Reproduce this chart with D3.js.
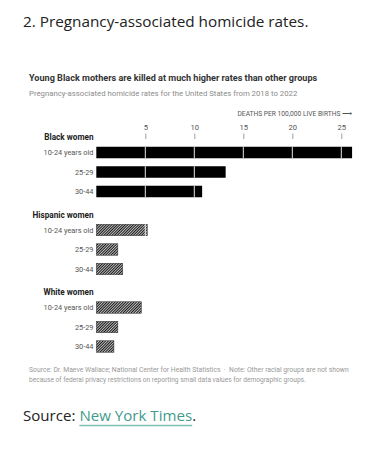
<!DOCTYPE html>
<html>
<head>
<meta charset="utf-8">
<script src="https://cdn.jsdelivr.net/npm/d3@7"></script>
<style>
  html, body { margin: 0; padding: 0; background: #fff; }
  svg { display: block; }
</style>
</head>
<body>
<svg id="chart" width="390" height="459"></svg>
<script>
// ---- data ----
const groups = ["Black women", "Hispanic women", "White women"];
const ages = ["10-24 years old", "25-29", "30-44"];
const blackRates = [26.1, 13.2, 10.8];
const hispanicRates = [5.2, 2.2, 2.7];
const whiteRates = [4.6, 2.2, 1.8];
const tickValues = [5, 10, 15, 20, 25];
const pageTitle = "2. Pregnancy-associated homicide rates.";
const chartTitle = "Young Black mothers are killed at much higher rates than other groups";
const chartSubtitle = "Pregnancy-associated homicide rates for the United States from 2018 to 2022";
const axisTitle = "DEATHS PER 100,000 LIVE BIRTHS \u27F6";
const noteLines = [
  "Source: Dr. Maeve Wallace; National Center for Health Statistics  \u00B7  Note: Other racial groups are not shown",
  "because of federal privacy restrictions on reporting small data values for demographic groups."
];

const seriesByGroup = [blackRates, hispanicRates, whiteRates];

const svg = d3.select("#chart");
const chartFont = "Roboto, 'Liberation Sans', sans-serif";
const pageFont = "'Open Sans', 'Noto Sans', sans-serif";

// size a text so that it spans a given width
function fitSize(sel, width) {
  const base = 10;
  sel.attr("font-size", base);
  const w = sel.node().getComputedTextLength();
  const s = base * width / w;
  sel.attr("font-size", s);
  return s;
}

// page title
svg.append("text")
  .attr("x", 23).attr("y", 27)
  .attr("font-family", pageFont).attr("font-size", 15.3)
  .attr("fill", "#222")
  .text(pageTitle);

// chart title + subtitle
svg.append("text")
  .attr("x", 29).attr("y", 81)
  .attr("font-family", chartFont).attr("font-weight", 700).attr("font-size", 9.1)
  .attr("fill", "#333")
  .text(chartTitle);
const sub = svg.append("text")
  .attr("x", 29).attr("y", 95.5)
  .attr("font-family", chartFont)
  .attr("fill", "#8c8c8c")
  .text(chartSubtitle);
fitSize(sub, 269);

// scales
const x = d3.scaleLinear().domain([0, 26]).range([96.3, 351.1]);
const groupY = d3.scalePoint().domain(groups).range([137, 292]);
const barStep = 19.5, firstOffset = 15.5, barH = 11.5;
const barCenter = (g, i) => groupY(g) + firstOffset + i * barStep;

// hatch pattern
const defs = svg.append("defs");
const pat = defs.append("pattern")
  .attr("id", "hatch").attr("patternUnits", "userSpaceOnUse")
  .attr("width", 1.9).attr("height", 1.9)
  .attr("patternTransform", "rotate(45)");
pat.append("rect").attr("width", 1.9).attr("height", 1.9).attr("fill", "#fff");
pat.append("rect").attr("width", 1.2).attr("height", 1.9).attr("fill", "#151515");

// axis title
const axt = svg.append("text")
  .attr("x", 352).attr("y", 115.5)
  .attr("text-anchor", "end")
  .attr("font-family", chartFont)
  .attr("fill", "#555")
  .text(axisTitle);
fitSize(axt, 114);

// axis (tick labels and marks)
const axis = d3.axisTop(x).tickValues(tickValues).tickSize(5.5).tickPadding(3.5);
const axG = svg.append("g").attr("transform", "translate(0,139)").call(axis);
axG.select(".domain").remove();
axG.selectAll(".tick line").attr("stroke", "#888").attr("stroke-width", 0.8);
axG.selectAll(".tick text")
  .attr("font-family", chartFont).attr("font-size", 7.6).attr("fill", "#555");

// group headers
const gh = svg.selectAll("text.group").data(groups).join("text")
  .attr("class", "group")
  .attr("x", 93.5).attr("y", g => groupY(g) + 3)
  .attr("text-anchor", "end")
  .attr("font-family", chartFont).attr("font-weight", 700)
  .attr("fill", "#222")
  .text(g => g);
const ghSize = fitSize(gh.filter((d, i) => i === 1), 61);
gh.attr("font-size", ghSize);

// rows
const rows = [];
groups.forEach((g, gi) => {
  ages.forEach((a, ai) => {
    rows.push({ group: g, gi, age: a, ai, value: seriesByGroup[gi][ai] });
  });
});

const ageText = svg.selectAll("text.age").data(rows).join("text")
  .attr("class", "age")
  .attr("x", 93.5).attr("y", d => barCenter(d.group, d.ai) + 2.6)
  .attr("text-anchor", "end")
  .attr("font-family", chartFont)
  .attr("fill", "#555")
  .text(d => d.age);
const ageSize = fitSize(ageText.filter((d, i) => i === 0), 50);
ageText.attr("font-size", ageSize);

svg.selectAll("rect.bar").data(rows).join("rect")
  .attr("class", "bar")
  .attr("x", x(0))
  .attr("y", d => barCenter(d.group, d.ai) - barH / 2)
  .attr("width", d => x(d.value) - x(0))
  .attr("height", barH)
  .attr("fill", d => d.gi === 0 ? "#000" : "url(#hatch)")
  .attr("stroke", d => d.gi === 0 ? "none" : "#333")
  .attr("stroke-width", 0.5);

// white gridlines over bars
svg.selectAll("line.grid").data(rows.flatMap(r => tickValues.filter(t => t < r.value).map(t => ({ r, t }))))
  .join("line")
  .attr("class", "grid")
  .attr("x1", d => x(d.t)).attr("x2", d => x(d.t))
  .attr("y1", d => barCenter(d.r.group, d.r.ai) - barH / 2)
  .attr("y2", d => barCenter(d.r.group, d.r.ai) + barH / 2)
  .attr("stroke", "#fff").attr("stroke-width", 0.9);

// footnote
const notes = svg.selectAll("text.note").data(noteLines).join("text")
  .attr("class", "note")
  .attr("x", 29).attr("y", (d, i) => 372 + i * 9.5)
  .attr("font-family", chartFont)
  .attr("fill", "#999")
  .style("white-space", "pre")
  .text(d => d);
const noteWidths = [320, 277];
notes.each(function (d, i) { fitSize(d3.select(this), noteWidths[i]); });

// source line
const src = svg.append("text")
  .attr("x", 23).attr("y", 421)
  .attr("font-family", pageFont).attr("font-size", 15.1)
  .attr("fill", "#222");
src.append("tspan").text("Source: ");
src.append("tspan").attr("fill", "#3f9b8a").text("New York Times");
src.append("tspan").text(".");

// underline for link
const linkNode = src.selectAll("tspan").nodes()[1];
const start = linkNode.getStartPositionOfChar(0).x;
const len = linkNode.getComputedTextLength();
svg.append("line")
  .attr("x1", start).attr("x2", start + len)
  .attr("y1", 425.5).attr("y2", 425.5)
  .attr("stroke", "#7cc0b3").attr("stroke-width", 1.3);
</script>
</body>
</html>
